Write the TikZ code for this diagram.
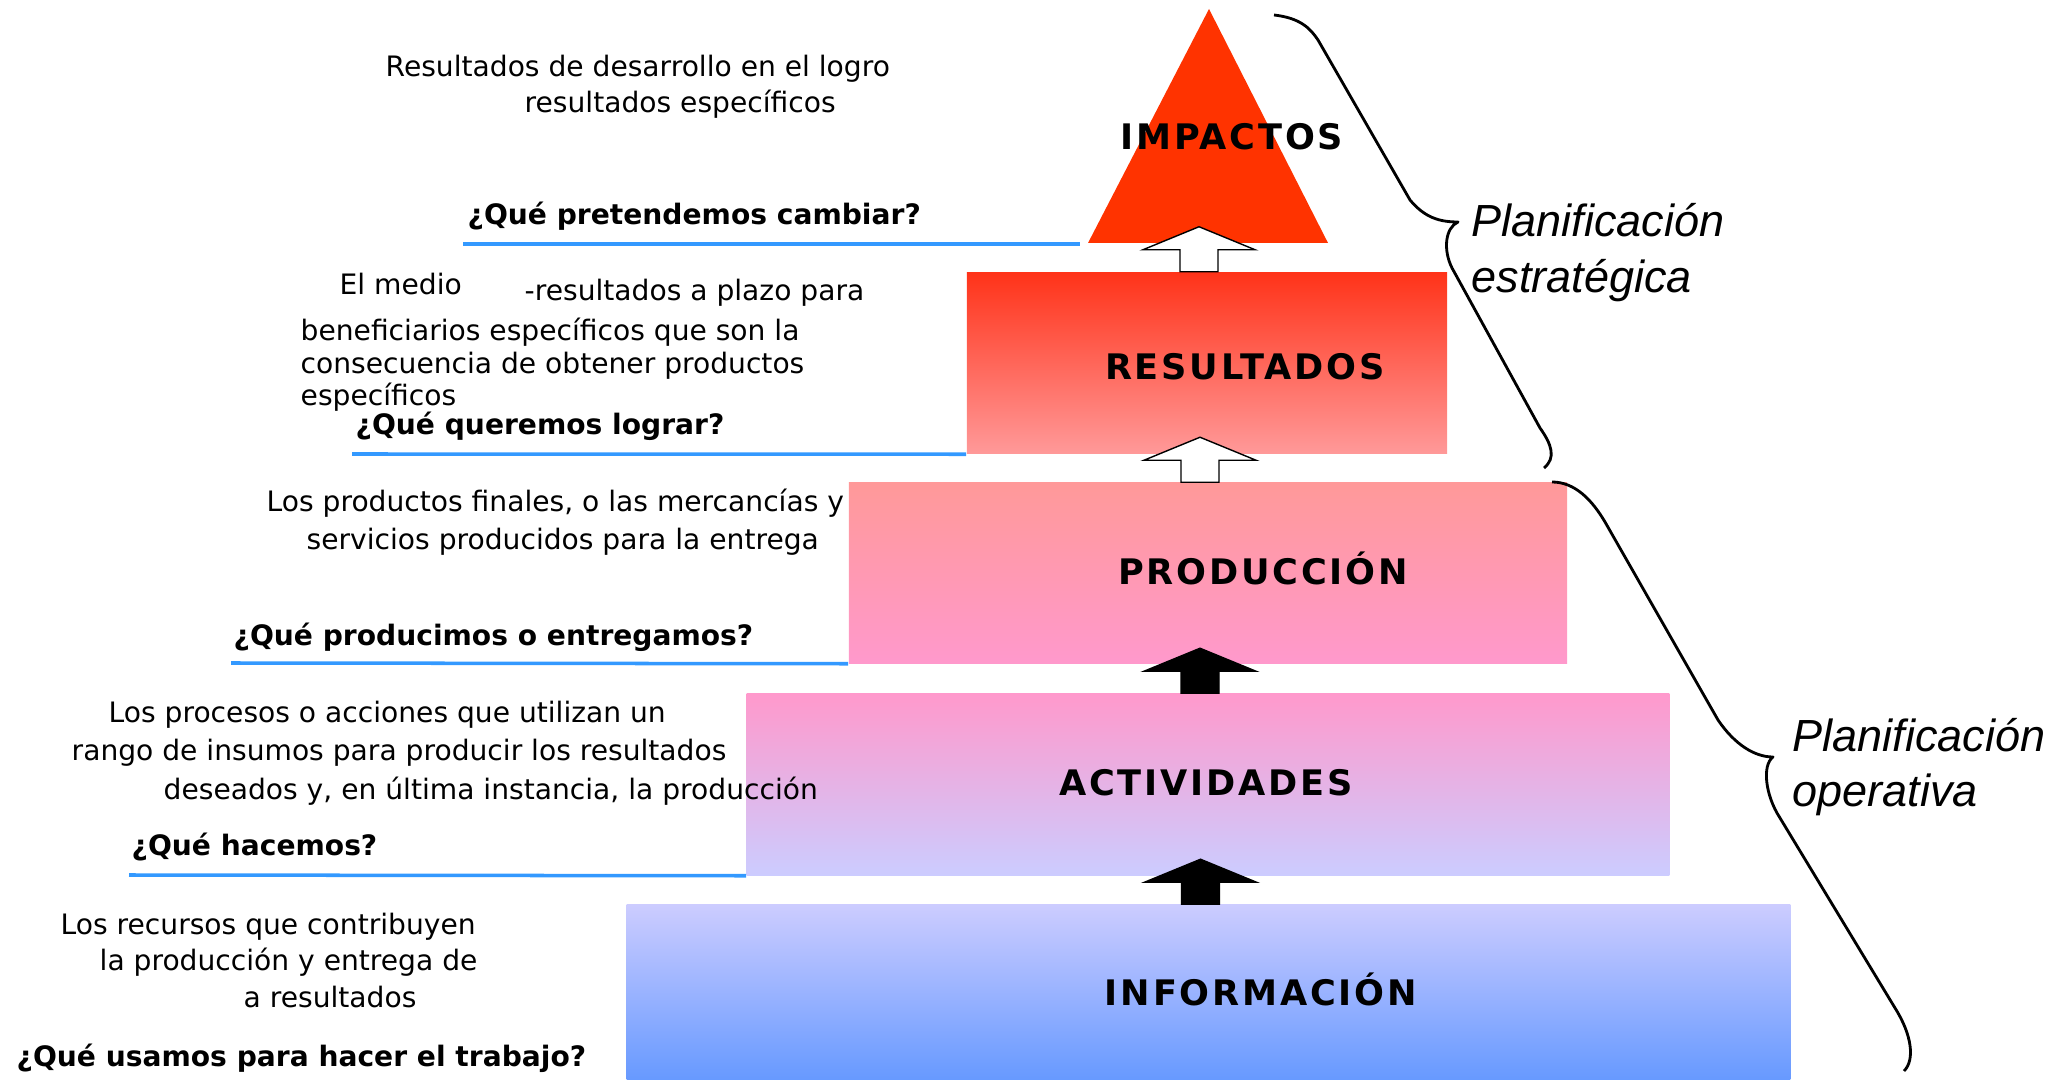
\documentclass[tikz,border=0pt]{standalone}
\usepackage{fontspec}
\setmainfont{DejaVu Sans}
\newfontfamily\levelfont[LetterSpace=8]{DejaVu Sans}
\newfontfamily\planfont{Liberation Sans}
\usetikzlibrary{calc}
\definecolor{impactred}{HTML}{FF3300}
\definecolor{resred}{HTML}{FF3319}
\definecolor{salmon}{HTML}{FF9999}
\definecolor{rosa}{HTML}{FF99CC}
\definecolor{lila}{HTML}{CCCCFF}
\definecolor{azul}{HTML}{6699FF}
\definecolor{lineblue}{HTML}{3399FF}
\begin{document}
\begin{tikzpicture}[x=0.01cm, y=-0.01cm,
	box/.style={inner sep=0pt, draw=none},
	level/.style={inner sep=0pt, anchor=base, font=\levelfont\bfseries\fontsize{10}{12}\selectfont},
	desc/.style={inner sep=0pt, anchor=base west, font=\fontsize{8}{9.6}\selectfont},
	ask/.style={inner sep=0pt, anchor=base west, font=\bfseries\fontsize{8}{9.6}\selectfont},
	plan/.style={inner sep=0pt, anchor=base west, font=\planfont\itshape\fontsize{12.8}{15}\selectfont},
	qline/.style={draw=lineblue, line width=1pt},
	brace/.style={line width=0.8pt, line join=round}]
	\useasboundingbox (0,0) rectangle (2061,1080);
	\fill[impactred] (1088,243) -- (1209,9) -- (1328,243) -- cycle;
	\node[box, top color=resred, bottom color=salmon, minimum width=4.80cm, minimum height=1.81cm] (res) at (1207,363) {};
	\node[box, top color=salmon, bottom color=rosa, minimum width=7.18cm, minimum height=1.80cm] (prod) at (1208,573) {};
	\node[box, top color=rosa, bottom color=lila, minimum width=9.22cm, minimum height=1.81cm] (act) at (1208,784.5) {};
	\node[box, top color=lila, bottom color=azul, minimum width=11.63cm, minimum height=1.76cm] (info) at (1208.5,993) {};
	\coordinate (l1) at (463,244);
	\coordinate (l1e) at (1080,244);
	\coordinate (l2) at (352,454);
	\coordinate (l3) at (231,663);
	\coordinate (l4) at (129,875);
	\draw[qline] (l1) -- (l1e);
	\draw[qline] (l2) -- (res.south west);
	\draw[qline] (l3) -- (prod.south west);
	\draw[qline] (l4) -- (act.south west);
	\foreach \b/\col in {res/white, prod/white, act/black, info/black}{
		\draw[fill=\col, line width=0.4pt] ($(\b.north)+(-8,0)$) ++(-19,0) -- ++(0,-22) -- ++(-37,0) -- ++(56,-23) -- ++(56,23) -- ++(-37,0) -- ++(0,22) -- cycle;
	}
	\node[level] (timp) at (1232,150) {IMPACTOS};
	\node[level] (tres) at (1245,380) {RESULTADOS};
	\node[level] (tprod) at (1263,585) {PRODUCCIÓN};
	\node[level] (tact) at (1206,796) {ACTIVIDADES};
	\node[level] (tinfo) at (1261,1005) {INFORMACIÓN};
	\node[desc] (d1a) at (385,77) {Resultados de desarrollo en el logro};
	\node[desc] (d1b) at (524,113) {resultados específicos};
	\node[ask] (q1) at (467,225) {¿Qué pretendemos cambiar?};
	\node[desc] (d2a) at (339,295) {El medio};
	\node[desc] (d2b) at (524,301) {-resultados a plazo para};
	\node[desc] (d2c) at (300,341) {beneficiarios específicos que son la};
	\node[desc] (d2d) at (300,374) {consecuencia de obtener productos};
	\node[desc] (d2e) at (300,406) {específicos};
	\node[ask] (q2) at (355,435) {¿Qué queremos lograr?};
	\node[desc] (d3a) at (266,512) {Los productos finales, o las mercancías y};
	\node[desc] (d3b) at (306,550) {servicios producidos para la entrega};
	\node[ask] (q3) at (233,646) {¿Qué producimos o entregamos?};
	\node[desc] (d4a) at (108,723) {Los procesos o acciones que utilizan un};
	\node[desc] (d4b) at (71,761) {rango de insumos para producir los resultados};
	\node[desc] (d4c) at (163,800) {deseados y, en última instancia, la producción};
	\node[ask] (q4) at (131,856) {¿Qué hacemos?};
	\node[desc] (d5a) at (60,934) {Los recursos que contribuyen};
	\node[desc] (d5b) at (99,970) {la producción y entrega de};
	\node[desc] (d5c) at (243,1007) {a resultados};
	\node[ask] (q5) at (16,1066) {¿Qué usamos para hacer el trabajo?};
	\draw[brace] (1274,15) .. controls (1300,18) and (1310,28) .. (1318,40) -- (1410,200) .. controls (1425,218) and (1440,222) .. (1458,222) .. controls (1445,228) and (1443,250) .. (1452,268) -- (1540,428) .. controls (1552,445) and (1556,458) .. (1544,468);
	\draw[brace] (1552,482) .. controls (1575,482) and (1592,500) .. (1605,522) -- (1718,720) .. controls (1735,745) and (1755,757) .. (1773,757) .. controls (1762,765) and (1765,795) .. (1780,818) -- (1895,1008) .. controls (1912,1035) and (1915,1060) .. (1904,1071);
	\node[plan] (pe1) at (1471,237) {Planificación};
	\node[plan] (pe2) at (1471,293) {estratégica};
	\node[plan] (po1) at (1792,752) {Planificación};
	\node[plan] (po2) at (1792,807) {operativa};
\end{tikzpicture}
\end{document}
